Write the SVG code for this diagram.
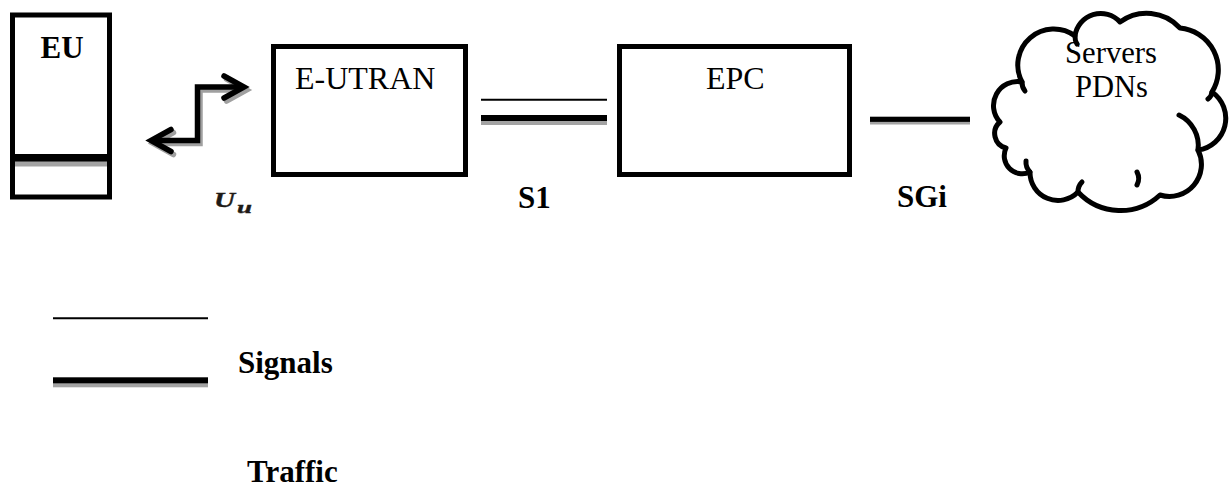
<svg xmlns="http://www.w3.org/2000/svg" width="1230" height="487" viewBox="0 0 1230 487">
  <style>
    .box { fill: #ffffff; stroke: #000000; stroke-width: 5; }
    .cloud { fill: #ffffff; stroke: #000000; stroke-width: 5; stroke-linejoin: round; }
    .cloud-inner { fill: none; stroke: #000000; stroke-width: 5; stroke-linecap: round; }
    .lbl { font-family: "Liberation Serif", "Times New Roman", serif; fill: #000000; }
    .reg { font-size: 32px; font-weight: normal; }
    .bold { font-size: 31px; font-weight: bold; }
    .thin { stroke: #000000; stroke-width: 2; }
    .thick { fill: #000000; }
    .thick-shadow { fill: #a3a3a3; }
    .arrow { fill: none; stroke: #000000; stroke-width: 5.5; stroke-linecap: round; stroke-linejoin: miter; }
    .arrow-shadow { fill: none; stroke: #a0a0a0; stroke-width: 5.5; stroke-linecap: round; stroke-linejoin: miter; }
    .math { font-family: "Liberation Serif", "Times New Roman", serif; font-weight: bold; font-style: italic; fill: #1e1a16; stroke: #1e1a16; stroke-width: 0.4; }
  </style>

  <rect width="1230" height="487" fill="#ffffff"/>

  <!-- User equipment -->
  <g id="node-eu">
    <rect class="box" x="12.5" y="15" width="97" height="182"/>
    <rect class="thick-shadow" x="15" y="161" width="92" height="5.5"/>
    <rect class="thick" x="12" y="154" width="98" height="7.5"/>
    <text class="lbl bold" x="62" y="58" text-anchor="middle" font-size="30">EU</text>
  </g>

  <!-- Radio access network -->
  <g id="node-eutran">
    <rect class="box" x="273.5" y="46.5" width="192" height="128"/>
    <text class="lbl reg" x="295" y="89">E-UTRAN</text>
  </g>

  <!-- Evolved packet core -->
  <g id="node-epc">
    <rect class="box" x="619.5" y="46.5" width="230" height="128"/>
    <text class="lbl reg" x="706" y="89" font-size="31">EPC</text>
  </g>

  <!-- External packet data networks -->
  <g id="node-pdn">
    <path class="cloud" d="M1000,122
      A24,24 0 0 1 1022,82
      A36,36 0 0 1 1075,36
      A26,26 0 0 1 1120,22
      A45,45 0 0 1 1180,28
      A42,42 0 0 1 1212,92
      A32,32 0 0 1 1198,150
      A32,32 0 0 1 1160,195
      A58,58 0 0 1 1078,192
      A28,28 0 0 1 1030,172
      A18,18 0 0 1 1006,148
      A15,15 0 0 1 1000,122 Z"/>
    <path class="cloud-inner" d="M1179,115 A34,34 0 0 1 1198,150"/>
    <path class="cloud-inner" d="M1022,82 A14,14 0 0 0 1025,91"/>
    <path class="cloud-inner" d="M1075,36 A14,14 0 0 0 1077,44"/>
    <path class="cloud-inner" d="M1078,192 A14,14 0 0 1 1082,182"/>
    <path class="cloud-inner" d="M1137,185 A14,14 0 0 0 1137,172"/>
    <path class="cloud-inner" d="M1030,172 A14,14 0 0 1 1026,161"/>
    <path class="cloud-inner" d="M1212,92 A10,10 0 0 1 1208,99"/>
    <text class="lbl reg" x="1065" y="63" font-size="27" textLength="92" lengthAdjust="spacingAndGlyphs">Servers</text>
    <text class="lbl reg" x="1075" y="97" font-size="27" textLength="73" lengthAdjust="spacingAndGlyphs">PDNs</text>
  </g>

  <!-- Interfaces between the elements -->
  <g id="connectors">
    <!-- Uu radio link: bidirectional stepped arrow -->
    <g transform="translate(2.5,3)">
      <path class="arrow-shadow" d="M241,87 H197.5 V140.5 H154"/>
      <polyline class="arrow-shadow" points="224,76 244,87 224,98"/>
      <polyline class="arrow-shadow" points="171,129.5 151,140.5 171,151.5"/>
    </g>
    <path class="arrow" d="M241,87 H197.5 V140.5 H154"/>
    <polyline class="arrow" points="224,76 244,87 224,98"/>
    <polyline class="arrow" points="171,129.5 151,140.5 171,151.5"/>

    <!-- S1: signalling + traffic -->
    <line class="thin" x1="481" y1="99.7" x2="607" y2="99.7"/>
    <rect class="thick-shadow" x="481" y="120.5" width="126" height="4.5"/>
    <rect class="thick" x="481" y="115" width="126" height="6"/>

    <!-- SGi: traffic -->
    <rect class="thick-shadow" x="870" y="121.5" width="100" height="3"/>
    <rect class="thick" x="870" y="116.7" width="100" height="5.2"/>
  </g>

  <!-- Interface names -->
  <g id="interface-labels">
    <text class="math" font-size="22"><tspan x="214" y="207" textLength="21" lengthAdjust="spacingAndGlyphs">U</tspan><tspan x="237" y="213" font-size="17" textLength="15" lengthAdjust="spacingAndGlyphs">u</tspan></text>
    <text class="lbl bold" x="518" y="208">S1</text>
    <text class="lbl bold" x="897" y="207">SGi</text>
  </g>

  <!-- Legend -->
  <g id="legend">
    <line class="thin" x1="53" y1="318.3" x2="208" y2="318.3"/>
    <rect class="thick-shadow" x="53" y="383" width="155" height="4.3"/>
    <rect class="thick" x="53" y="377.3" width="155" height="6"/>
    <text class="lbl bold" x="238" y="373" font-size="32">Signals</text>
    <text class="lbl bold" x="247" y="482" font-size="32">Traffic</text>
  </g>
</svg>
